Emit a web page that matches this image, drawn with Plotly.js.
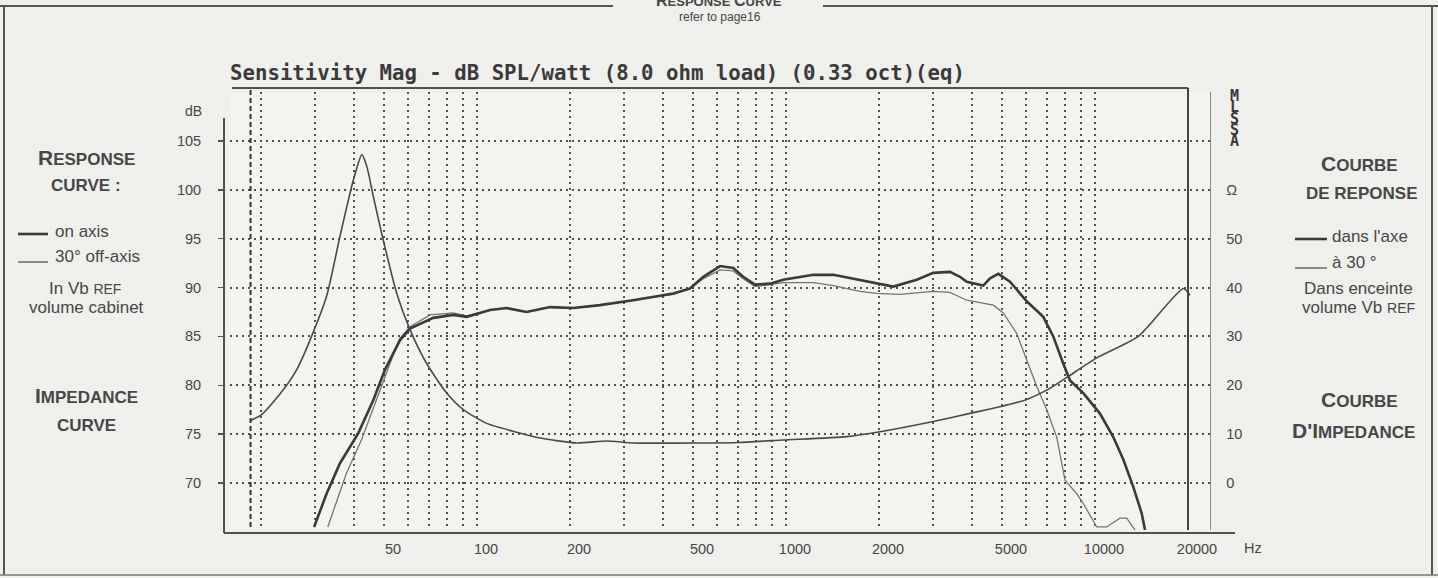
<!DOCTYPE html>
<html><head><meta charset="utf-8">
<script src="https://cdn.plot.ly/plotly-3.0.1.min.js"></script>
<style>html,body{margin:0;padding:0;background:#efefec;} #chart{width:1438px;height:578px;}</style>
</head><body><div id="chart"></div>
<script>
// ---------- data ----------
const onAxisFreq = [29.7, 32.6, 36.0, 41.3, 46.2, 50.4, 56.3, 60.7, 72.2, 83.8, 92.6, 110.2, 124.8, 144.8, 172.3, 204.9, 250, 320, 432, 489, 540, 612, 675, 727, 794, 888, 980, 1226, 1423, 1736, 2225, 2649, 2997, 3395, 3657, 3844, 4350, 4574, 4866, 5307, 6012, 6802, 7328, 7898, 8302, 9166, 10380, 11462, 12349, 13302, 14161, 14518];
const onAxisDb   = [65.5, 68.9, 72.0, 75.1, 78.5, 81.6, 84.6, 85.8, 86.9, 87.2, 87.0, 87.7, 87.9, 87.5, 88.0, 87.9, 88.2, 88.7, 89.4, 89.9, 91.1, 92.2, 92.0, 91.1, 90.3, 90.4, 90.8, 91.3, 91.3, 90.8, 90.1, 90.8, 91.5, 91.6, 91.1, 90.6, 90.2, 90.95, 91.4, 90.6, 88.6, 87.0, 85.0, 82.2, 80.5, 79.2, 77.1, 74.7, 72.4, 69.6, 66.9, 65.2];

const offAxisFreq = [32.9, 37.8, 42.4, 48.5, 53.1, 56.3, 60.7, 70.5, 83.8, 92.6, 110.2, 124.8, 144.8, 172.3, 204.9, 250, 320, 432, 489, 540, 612, 675, 727, 794, 888, 980, 1226, 1423, 1736, 1966, 2338, 2997, 3395, 3844, 4689, 5051, 5580, 6012, 6476, 6979, 7518, 7996, 8726, 9166, 10128, 10912, 12045, 12665, 13468];
const offAxisDb   = [65.5, 71.0, 74.5, 79.5, 82.8, 84.8, 86.0, 87.2, 87.4, 87.1, 87.7, 87.9, 87.5, 88.0, 87.9, 88.2, 88.7, 89.3, 89.9, 90.9, 91.8, 91.7, 90.9, 90.1, 90.3, 90.5, 90.5, 90.2, 89.6, 89.4, 89.3, 89.6, 89.5, 88.7, 88.2, 87.4, 85.3, 82.6, 79.9, 77.5, 74.7, 70.3, 68.9, 67.9, 65.5, 65.5, 66.4, 66.4, 65.2];

const impFreq = [18.5, 20.1, 23.3, 26.1, 28.8, 32.6, 36.0, 39.8, 42.4, 44.0, 46.2, 49.1, 55.0, 60.7, 68.8, 79.8, 90.3, 107.5, 134.4, 160, 210, 263, 320, 527, 700, 980, 1572, 2015, 2997, 4038, 4927, 6012, 6979, 8099, 10128, 13808, 19313, 20295];
const impOhm  = [12.8, 14.0, 18.6, 23.2, 29.2, 38.2, 50.4, 62.0, 67.2, 64.8, 58.6, 51.2, 38.8, 31.4, 24.4, 18.4, 15.0, 12.2, 10.4, 9.2, 8.2, 8.6, 8.2, 8.2, 8.3, 8.8, 9.5, 10.5, 12.6, 14.4, 15.6, 17.1, 19.0, 21.6, 25.6, 30.0, 39.8, 38.4];

const gridFreqs = [20,30,40,50,60,70,80,90,100,200,300,400,500,600,700,800,900,1000,2000,3000,4000,5000,6000,7000,8000,9000,10000,20000];
const labelledFreqs = [50,100,200,500,1000,2000,5000,10000,20000];
const dbTicks = [70,75,80,85,90,95,100,105];
const ohmTicks = [0,10,20,30,40,50,60];
const ohmTickText = ['0','10','20','30','40','50','\u03A9'];
const endFreq = 20000;

// ---------- layout helpers ----------
const W = 1438, H = 578;
const X = px => px / W;
const Y = py => 1 - py / H;
const INK = '#474747';
const SANS = 'Liberation Sans, Arial, sans-serif';
const MONO = 'DejaVu Sans Mono, Liberation Mono, monospace';
const gridTickText = gridFreqs.map(f => labelledFreqs.includes(f) ? String(f) : '');

const traces = [
  {x: impFreq, y: impOhm, xaxis: 'x', yaxis: 'y2', mode: 'lines', name: 'impedance',
   line: {color: '#4a4a4a', width: 1.6, shape: 'spline', smoothing: 0.6}, hoverinfo: 'skip'},
  {x: offAxisFreq, y: offAxisDb, xaxis: 'x', yaxis: 'y', mode: 'lines', name: '30° off-axis',
   line: {color: '#747474', width: 1.3}, hoverinfo: 'skip'},
  {x: onAxisFreq, y: onAxisDb, xaxis: 'x', yaxis: 'y', mode: 'lines', name: 'on axis',
   line: {color: '#3a3a3a', width: 2.6}, hoverinfo: 'skip'}
];

const gridStyle = {showgrid: true, gridcolor: '#505050', gridwidth: 2, griddash: '2px,4px'};

const ann = [];
function txt(text, px, py, size, opts) {
  ann.push(Object.assign({text: text, x: X(px), y: Y(py), xref: 'paper', yref: 'paper',
    showarrow: false, xanchor: 'center', yanchor: 'middle',
    font: {family: SANS, size: size, color: INK}}, opts || {}));
}
const sc = (big, small, ss) => '<b>' + big + '<span style="font-size:' + ss + 'px">' + small + '</span></b>';

// header
txt(sc('R','ESPONSE ',13) + sc('C','URVE',13), 719, 0, 16);
txt('refer to page16', 720, 17, 12);
// axis unit labels
txt('dB', 193, 111, 14);
txt('Hz', 1253, 548, 14.5);
// MLSSA vertical
'MLSSA'.split('').forEach((c, i) => {
  ann.push({text: '<b>' + c + '</b>', x: X(1234), y: Y(96 + i * 11.3), xref: 'paper', yref: 'paper',
    showarrow: false, xanchor: 'center', yanchor: 'middle',
    font: {family: MONO, size: 15, color: '#3a3a3a'}});
});
// left block
txt(sc('R','ESPONSE',17), 86, 158, 21);
txt('<b>CURVE :</b>', 86, 185, 17);
txt('on axis', 53, 232, 17, {xanchor: 'left'});
txt('30° off-axis', 53, 256, 17, {xanchor: 'left'});
txt('In Vb <span style="font-size:14px">REF</span>', 85, 288, 17);
txt('volume cabinet', 86, 308, 17);
txt(sc('I','MPEDANCE',17), 86, 396, 21);
txt('<b>CURVE</b>', 86, 425, 17);
// right block
txt(sc('C','OURBE',17), 1359, 163, 21);
txt('<b>DE REPONSE</b>', 1361, 193, 17);
txt('dans l\'axe', 1330, 237, 17, {xanchor: 'left'});
txt('à 30 °', 1330, 262, 17, {xanchor: 'left'});
txt('Dans enceinte', 1358, 288, 17);
txt('volume Vb <span style="font-size:14px">REF</span>', 1358, 308, 17);
txt(sc('C','OURBE',17), 1359, 400, 21);
txt('<b>D\'</b>' + sc('I','MPEDANCE',17), 1353, 430, 21);

const lineShape = (x0, y0, x1, y1, w, c, dash) => ({type: 'line', xref: 'paper', yref: 'paper',
  x0: X(x0), y0: Y(y0), x1: X(x1), y1: Y(y1), line: {color: c || '#555', width: w, dash: dash || 'solid'}});

const shapes = [
  // page frame
  lineShape(0, 6, 613, 6, 2),
  lineShape(823, 6, W, 6, 2),
  lineShape(4, 6, 4, 575, 2),
  lineShape(1432, 6, 1432, 575, 2),
  lineShape(0, 575, W, 575, 1.5, '#777'),
  // chart frame
  lineShape(224, 118, 224, 533, 2, '#505050'),
  lineShape(224, 533, 1235, 533, 2.2, '#505050'),
  lineShape(232, 88, 1188, 88, 1.8, '#505050'),
  // MLSSA plot edges drawn at data frequencies
  {type: 'line', xref: 'x', yref: 'paper', x0: impFreq[0], x1: impFreq[0], y0: Y(527), y1: Y(90),
   line: {color: '#333', width: 2, dash: '5px,3px'}},
  {type: 'line', xref: 'x', yref: 'paper', x0: endFreq, x1: endFreq, y0: Y(530), y1: Y(88),
   line: {color: '#444', width: 2}},
  // legend keys
  lineShape(18, 234, 48, 234, 2.6, '#3a3a3a'),
  lineShape(18, 262, 48, 262, 1.3, '#555'),
  lineShape(1295, 239, 1327, 239, 2.6, '#3a3a3a'),
  lineShape(1295, 268, 1327, 268, 1.3, '#555')
];

const layout = {
  width: W, height: H,
  margin: {l: 0, r: 0, t: 0, b: 0, pad: 0},
  paper_bgcolor: '#efefec', plot_bgcolor: '#f3f3f0',
  showlegend: false,
  title: {text: '<b>Sensitivity Mag - dB SPL/watt (8.0 ohm load) (0.33 oct)(eq)</b>',
    x: X(597.5), y: Y(73), xref: 'paper', yref: 'paper', xanchor: 'center', yanchor: 'middle',
    font: {family: MONO, size: 20.7, color: '#3a3a3a'}},
  xaxis: Object.assign({type: 'log', domain: [X(230), X(1210)], range: [1.2007, 4.3722],
    tickmode: 'array', tickvals: gridFreqs, ticktext: gridTickText,
    ticks: '', showline: false, zeroline: false, ticklabelshift: 9, ticklabelstandoff: 8,
    tickfont: {family: SANS, size: 14.5, color: INK}, fixedrange: true}, gridStyle),
  yaxis: Object.assign({domain: [Y(530), Y(92)], range: [65.19, 110.01],
    tickmode: 'array', tickvals: dbTicks, ticks: 'outside', ticklen: 6, tickwidth: 1.5, tickcolor: '#555',
    anchor: 'free', position: X(224), showline: false, zeroline: false, ticklabelstandoff: 14,
    tickfont: {family: SANS, size: 14.5, color: INK}, fixedrange: true}, gridStyle),
  yaxis2: {overlaying: 'y', side: 'right', anchor: 'free', position: X(1210),
    range: [-9.62, 80.02], tickmode: 'array', tickvals: ohmTicks, ticktext: ohmTickText,
    ticks: '', showgrid: false, zeroline: false, showline: true, linecolor: '#8a8a8a', linewidth: 1.4,
    ticklabelstandoff: 12, tickfont: {family: SANS, size: 14.5, color: INK}, fixedrange: true},
  shapes: shapes,
  annotations: ann
};

Plotly.newPlot('chart', traces, layout, {displayModeBar: false, staticPlot: true});
</script>
</body></html>
